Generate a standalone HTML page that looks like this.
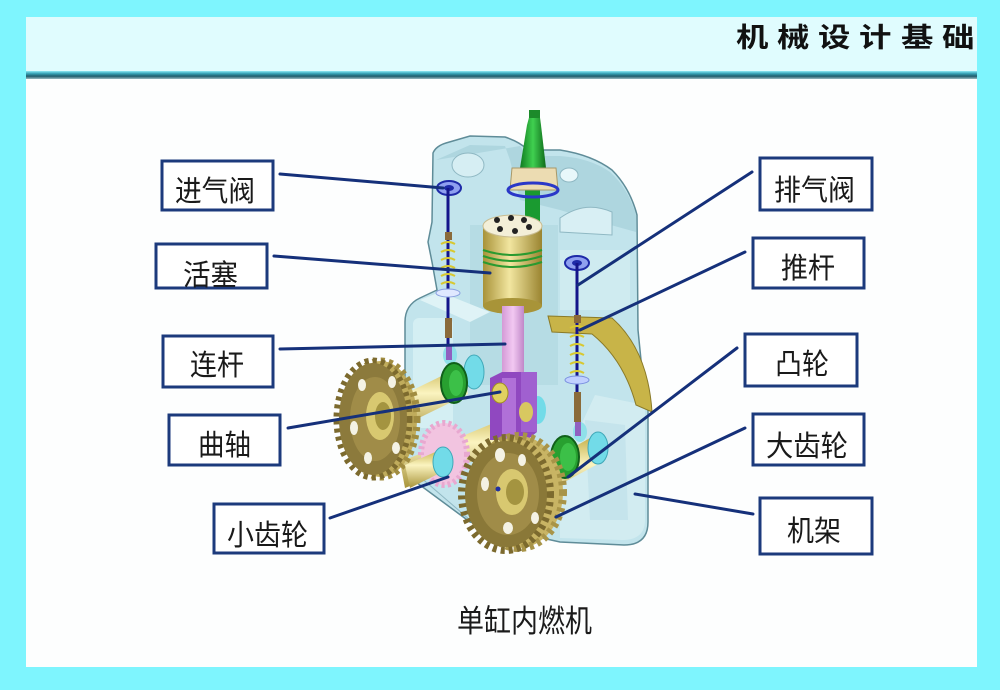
<!DOCTYPE html>
<html><head><meta charset="utf-8">
<style>
html,body{margin:0;padding:0;background:#7ef5fe;}
svg{display:block;}
.lb{font-family:"Liberation Sans","Noto Sans CJK SC",sans-serif;font-size:29px;fill:#1a1a1a;}
.tt{font-family:"Liberation Sans","Noto Sans CJK SC",sans-serif;font-size:27px;font-weight:bold;fill:#111;}
</style></head>
<body>
<svg width="1000" height="690" viewBox="0 0 1000 690" xmlns="http://www.w3.org/2000/svg">
<defs>
<linearGradient id="hl" x1="0" y1="0" x2="0" y2="1">
<stop offset="0" stop-color="#8fe9f4"/><stop offset="0.3" stop-color="#3aa6ba"/>
<stop offset="0.65" stop-color="#1f5c6c"/><stop offset="1" stop-color="#9bb8c0"/>
</linearGradient>
<linearGradient id="gold" x1="0" y1="0" x2="1" y2="0">
<stop offset="0" stop-color="#a89238"/><stop offset="0.45" stop-color="#f2e6a0"/><stop offset="1" stop-color="#9a8430"/>
</linearGradient>
<linearGradient id="shaft" x1="0" y1="0" x2="0" y2="1">
<stop offset="0" stop-color="#c8b450"/><stop offset="0.4" stop-color="#fbf4c0"/><stop offset="1" stop-color="#a8943a"/>
</linearGradient>
<linearGradient id="rod" x1="0" y1="0" x2="1" y2="0">
<stop offset="0" stop-color="#d49ad6"/><stop offset="0.5" stop-color="#f2c8f2"/><stop offset="1" stop-color="#c088c8"/>
</linearGradient>
<linearGradient id="green" x1="0" y1="0" x2="1" y2="0">
<stop offset="0" stop-color="#107a20"/><stop offset="0.5" stop-color="#40d050"/><stop offset="1" stop-color="#0e6a1a"/>
</linearGradient>
</defs>

<!-- frame -->
<rect x="0" y="0" width="1000" height="690" fill="#7ef5fe"/>
<rect x="26" y="17" width="951" height="650" fill="#fdfefe"/>
<rect x="26" y="17" width="951" height="54" fill="#e0fcfe"/>
<rect x="26" y="71" width="951" height="8" fill="url(#hl)"/>
<g class="tt">
<text transform="translate(736,47) scale(1.2,1)">机</text>
<text transform="translate(777,47) scale(1.2,1)">械</text>
<text transform="translate(818,47) scale(1.2,1)">设</text>
<text transform="translate(859,47) scale(1.2,1)">计</text>
<text transform="translate(901,47) scale(1.2,1)">基</text>
<text transform="translate(942,47) scale(1.2,1)">础</text>
</g>

<!-- engine body -->
<path d="M433,153 Q436,146 446,143 L470,136 L505,137 Q520,142 528,150 L560,150 Q592,155 612,170 Q630,188 637,215 L638,330 L645,400 L648,410 L648,522 Q648,545 624,545 L560,542 L470,522 L405,474 L405,322 Q405,305 420,298 L437,290 L432,262 L428,242 L432,222 Z" fill="#c2e4ec" stroke="#5f8c98" stroke-width="1.5"/>
<!-- head shading -->
<path d="M436,160 L470,145 L505,146 L510,160 L520,200 L560,210 L600,222 L636,232 L636,215 Q628,188 610,172 Q590,158 560,156 L528,156 L520,146" fill="#a9d2dc" opacity="0.8"/>
<ellipse cx="468" cy="165" rx="16" ry="12" fill="#d6eef3" stroke="#8fb8c3"/>
<ellipse cx="569" cy="175" rx="9" ry="7" fill="#e8f7fa" stroke="#8fb8c3"/>
<path d="M560,218 Q585,200 612,212 L612,235 L560,232 Z" fill="#d8eff4" stroke="#8fb8c3"/>
<rect x="470" y="225" width="88" height="160" fill="#b0d8e1" opacity="0.7"/>
<rect x="560" y="250" width="70" height="60" fill="#d2ecf1" opacity="0.8"/>
<rect x="413" y="318" width="40" height="110" rx="6" fill="#d6eff4" opacity="0.9"/>
<path d="M420,300 L440,292 L490,312 L470,322 Z" fill="#dff3f6"/>
<path d="M595,395 L645,405 L645,520 Q645,540 622,540 L560,538 L560,470 Z" fill="#d2ecf1"/>
<path d="M585,420 L625,425 L628,520 L590,520 Z" fill="#bfe1e9" opacity="0.7"/>
<line x1="412" y1="470" x2="470" y2="520" stroke="#8fb8c3"/>

<!-- gold arc -->
<path d="M548,316 L612,318 Q648,350 652,412 L636,405 Q624,360 592,334 L552,332 Z" fill="#c8b448" stroke="#8a7a28" stroke-width="1"/>

<!-- left valve -->
<ellipse cx="449" cy="188" rx="12" ry="7" fill="#8fa0f0" stroke="#1e2aa8" stroke-width="2"/>
<ellipse cx="449" cy="188" rx="5" ry="3" fill="#1e2aa8"/>
<line x1="448" y1="188" x2="448" y2="362" stroke="#14158a" stroke-width="3"/>
<rect x="445" y="232" width="7" height="8" fill="#8a6a3a"/>
<path d="M441,244 q7,-4 14,0 M441,252 q7,-4 14,0 M441,260 q7,-4 14,0 M441,268 q7,-4 14,0 M441,276 q7,-4 14,0 M441,284 q7,-4 14,0" stroke="#d8c830" stroke-width="2" fill="none"/>
<ellipse cx="448" cy="293" rx="12" ry="4" fill="#dfe8ff" stroke="#8aa0e0"/>
<rect x="445" y="318" width="7" height="20" fill="#8a6a3a"/>
<ellipse cx="450" cy="355" rx="7" ry="10" fill="#8fe0ea"/>
<rect x="446" y="346" width="6" height="14" fill="#9060c0"/>

<!-- right valve -->
<ellipse cx="577" cy="263" rx="12" ry="7" fill="#8fa0f0" stroke="#1e2aa8" stroke-width="2"/>
<ellipse cx="577" cy="263" rx="5" ry="3" fill="#1e2aa8"/>
<line x1="577" y1="263" x2="577" y2="435" stroke="#14158a" stroke-width="3"/>
<rect x="574" y="315" width="7" height="8" fill="#8a6a3a"/>
<path d="M570,328 q7,-4 14,0 M570,337 q7,-4 14,0 M570,346 q7,-4 14,0 M570,355 q7,-4 14,0 M570,364 q7,-4 14,0 M570,373 q7,-4 14,0" stroke="#d8c830" stroke-width="2" fill="none"/>
<ellipse cx="577" cy="380" rx="12" ry="4" fill="#c0d0ff" stroke="#7a90e0"/>
<rect x="574" y="392" width="7" height="30" fill="#8a6a3a"/>
<ellipse cx="580" cy="432" rx="7" ry="10" fill="#8fe0ea"/>
<rect x="575" y="422" width="6" height="14" fill="#9060c0"/>

<!-- spark plug -->
<rect x="525" y="185" width="15" height="36" fill="#1a9a30"/>
<path d="M531,110 L539,110 L541,125 L546,168 L520,168 L527,125 Z" fill="url(#green)"/>
<rect x="529" y="110" width="11" height="8" fill="#1c8a2a"/>
<path d="M512,168 L556,168 L558,190 L510,190 Z" fill="#ecdcb2" stroke="#a89868"/>
<ellipse cx="533" cy="190" rx="25" ry="7" fill="none" stroke="#2a38c8" stroke-width="3"/>

<!-- piston -->
<rect x="483" y="226" width="59" height="80" fill="url(#gold)"/>
<ellipse cx="512.5" cy="306" rx="29.5" ry="8" fill="#a89438"/>
<path d="M483,250 q29.5,10 59,0 M483,256 q29.5,10 59,0 M483,262 q29.5,10 59,0" stroke="#2a9a30" stroke-width="2" fill="none"/>
<ellipse cx="512.5" cy="226" rx="29.5" ry="11" fill="#f3efd8" stroke="#c8bc90"/>
<circle cx="497" cy="220" r="3" fill="#222"/><circle cx="511" cy="218" r="3" fill="#222"/>
<circle cx="524" cy="220" r="3" fill="#222"/><circle cx="500" cy="229" r="3" fill="#222"/>
<circle cx="515" cy="231" r="3" fill="#222"/><circle cx="529" cy="227" r="3" fill="#222"/>

<!-- con rod -->
<rect x="502" y="306" width="22" height="72" fill="url(#rod)"/>

<!-- left camshaft -->
<polygon points="380,406 462,366 468,394 386,434" fill="url(#shaft)"/>
<ellipse cx="474" cy="372" rx="10" ry="17" fill="#72dbe8" stroke="#40a8b8"/>
<ellipse cx="454" cy="383" rx="13" ry="20" fill="#28a030" stroke="#10601a" stroke-width="2"/>
<ellipse cx="456" cy="383" rx="7" ry="13" fill="#3cc048"/>

<!-- crankshaft -->
<polygon points="400,462 520,412 526,440 405,488" fill="url(#shaft)"/>
<ellipse cx="538" cy="410" rx="8" ry="14" fill="#72dbe8"/>

<!-- big end -->
<path d="M490,378 L502,372 L537,372 L537,432 L527,440 L490,440 Z" fill="#9048c0"/>
<rect x="502" y="378" width="14" height="60" fill="#b070d8"/>
<rect x="521" y="372" width="16" height="60" fill="#a060d0"/>
<ellipse cx="500" cy="393" rx="8" ry="10" fill="#e0d060" stroke="#a09020"/>
<ellipse cx="526" cy="412" rx="7" ry="10" fill="#d8c860"/>

<!-- left gear -->
<ellipse cx="381" cy="419" rx="36" ry="58" fill="#c0ac5c" stroke="#a08c40" stroke-width="7" stroke-dasharray="4 4"/>
<ellipse cx="373" cy="419" rx="36" ry="58" fill="none" stroke="#7c6a2e" stroke-width="7" stroke-dasharray="4 4"/>
<ellipse cx="373" cy="419" rx="34" ry="56" fill="#8c7a3c"/>
<ellipse cx="375" cy="419" rx="25" ry="42" fill="#a08c48"/>
<ellipse cx="380" cy="416" rx="14" ry="24" fill="#d8c870"/>
<ellipse cx="383" cy="416" rx="8" ry="14" fill="#a49440"/>
<ellipse cx="362" cy="385" rx="4" ry="6" fill="#f4f2e4"/>
<ellipse cx="392" cy="382" rx="4" ry="6" fill="#f4f2e4"/>
<ellipse cx="354" cy="428" rx="4" ry="7" fill="#f4f2e4"/>
<ellipse cx="396" cy="448" rx="4" ry="6" fill="#f4f2e4"/>
<ellipse cx="368" cy="458" rx="4" ry="6" fill="#f4f2e4"/>

<!-- pink gear -->
<ellipse cx="444" cy="454" rx="23" ry="31" fill="#f2c4e0" stroke="#e8a8d0" stroke-width="6" stroke-dasharray="3 3"/>
<polygon points="405,465 440,450 446,470 410,488" fill="url(#shaft)"/>
<ellipse cx="443" cy="462" rx="10" ry="15" fill="#72dbe8" stroke="#40a8b8"/>

<!-- right camshaft -->
<polygon points="515,480 590,438 598,464 522,505" fill="url(#shaft)"/>
<ellipse cx="598" cy="448" rx="10" ry="16" fill="#72dbe8" stroke="#40a8b8"/>
<ellipse cx="565" cy="457" rx="14" ry="21" fill="#28a030" stroke="#10601a" stroke-width="2"/>
<ellipse cx="568" cy="457" rx="8" ry="14" fill="#3cc048"/>

<!-- front gear -->
<ellipse cx="519" cy="492" rx="44" ry="56" fill="#c8b464" stroke="#a89448" stroke-width="8" stroke-dasharray="4 4"/>
<ellipse cx="506" cy="494" rx="44" ry="56" fill="none" stroke="#7c6a2e" stroke-width="8" stroke-dasharray="4 4"/>
<ellipse cx="506" cy="494" rx="41" ry="53" fill="#8a7838"/>
<ellipse cx="508" cy="494" rx="31" ry="41" fill="#a08c48"/>
<ellipse cx="512" cy="492" rx="16" ry="23" fill="#d8c870"/>
<ellipse cx="515" cy="492" rx="9" ry="13" fill="#a49440"/>
<circle cx="498" cy="489" r="2.5" fill="#2030a0"/>
<ellipse cx="500" cy="455" rx="5" ry="7" fill="#f4f2e4"/>
<ellipse cx="522" cy="460" rx="4" ry="6" fill="#f4f2e4"/>
<ellipse cx="485" cy="484" rx="4" ry="7" fill="#f4f2e4"/>
<ellipse cx="535" cy="518" rx="4" ry="6" fill="#f4f2e4"/>
<ellipse cx="508" cy="528" rx="5" ry="6" fill="#f4f2e4"/>

<!-- leader lines -->
<g stroke="#15307a" stroke-width="3" stroke-linecap="round">
<line x1="280" y1="174" x2="443" y2="188"/>
<line x1="274" y1="256" x2="490" y2="273"/>
<line x1="280" y1="349" x2="505" y2="344"/>
<line x1="288" y1="428" x2="500" y2="392"/>
<line x1="330" y1="518" x2="448" y2="477"/>
<line x1="752" y1="172" x2="578" y2="285"/>
<line x1="745" y1="252" x2="580" y2="330"/>
<line x1="737" y1="348" x2="568" y2="477"/>
<line x1="745" y1="428" x2="556" y2="517"/>
<line x1="753" y1="514" x2="635" y2="494"/>
</g>

<!-- label boxes -->
<g fill="#ffffff" stroke="#1c3a7c" stroke-width="3">
<rect x="162" y="161" width="111" height="49"/>
<rect x="156" y="244" width="111" height="44"/>
<rect x="163" y="336" width="110" height="51"/>
<rect x="169" y="415" width="111" height="50"/>
<rect x="214" y="504" width="110" height="49"/>
<rect x="760" y="158" width="112" height="52"/>
<rect x="753" y="238" width="111" height="50"/>
<rect x="745" y="334" width="112" height="52"/>
<rect x="753" y="414" width="111" height="51"/>
<rect x="760" y="498" width="112" height="56"/>
</g>

<g class="lb">
<text x="175" y="201" textLength="80" lengthAdjust="spacingAndGlyphs">进气阀</text>
<text x="183" y="285" textLength="55" lengthAdjust="spacingAndGlyphs">活塞</text>
<text x="190" y="375" textLength="54" lengthAdjust="spacingAndGlyphs">连杆</text>
<text x="198" y="455" textLength="53" lengthAdjust="spacingAndGlyphs">曲轴</text>
<text x="227" y="545" textLength="81" lengthAdjust="spacingAndGlyphs">小齿轮</text>
<text x="774" y="200" textLength="81" lengthAdjust="spacingAndGlyphs">排气阀</text>
<text x="781" y="278" textLength="54" lengthAdjust="spacingAndGlyphs">推杆</text>
<text x="775" y="374" textLength="54" lengthAdjust="spacingAndGlyphs">凸轮</text>
<text x="766" y="456" textLength="82" lengthAdjust="spacingAndGlyphs">大齿轮</text>
<text x="787" y="541" textLength="54" lengthAdjust="spacingAndGlyphs">机架</text>
</g>

<text x="457" y="632" font-family="'Liberation Sans','Noto Sans CJK SC',sans-serif" font-size="31" fill="#1a1a1a" textLength="135" lengthAdjust="spacingAndGlyphs">单缸内燃机</text>
</svg>
</body></html>
